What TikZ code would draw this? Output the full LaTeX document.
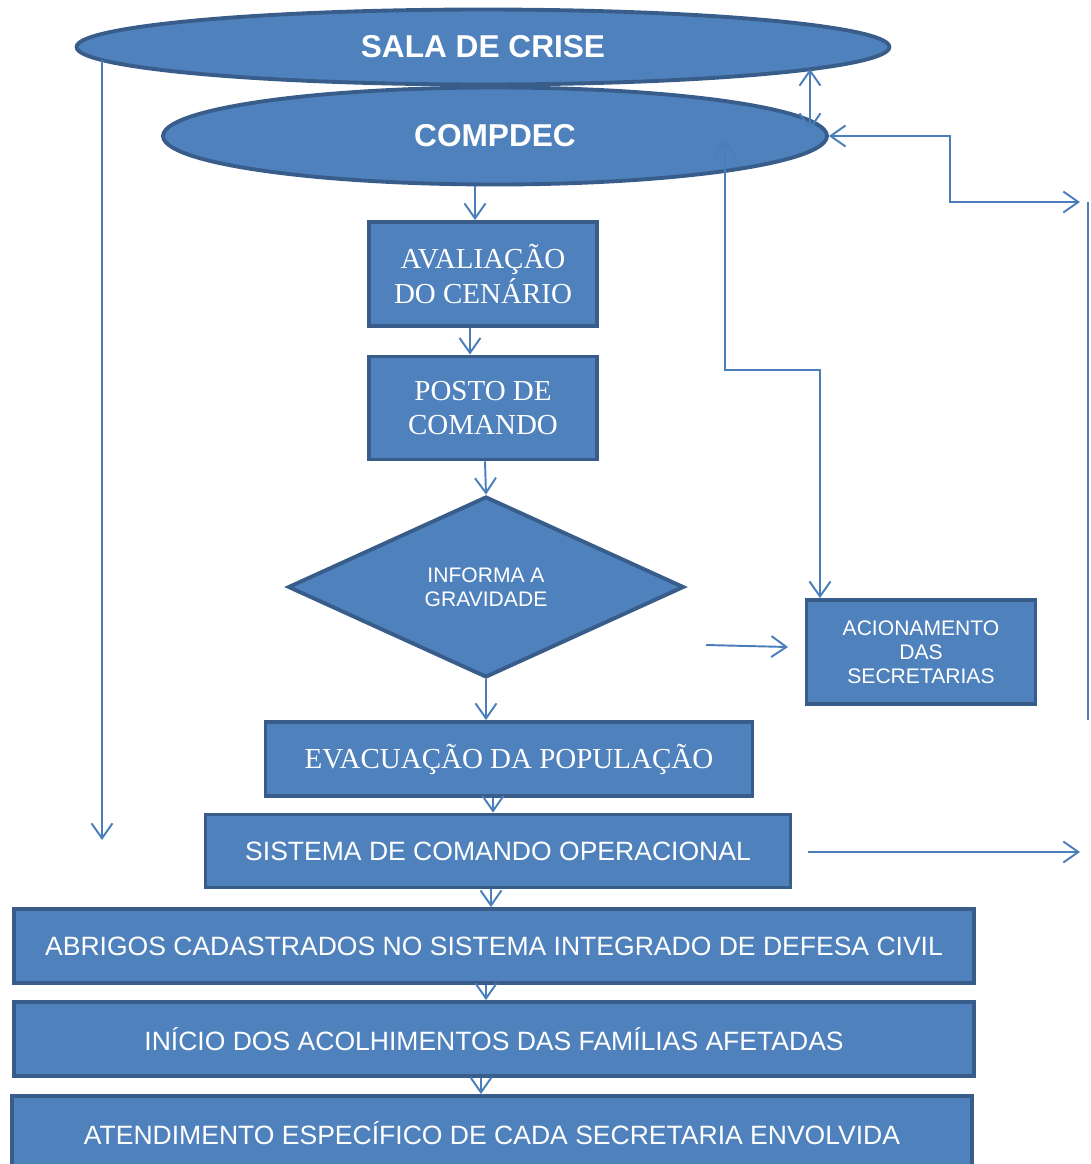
\documentclass[tikz,border=0pt]{standalone}
\usepackage{fontspec}
\setmainfont{Liberation Serif}
\setsansfont{Liberation Sans}
\usetikzlibrary{shapes.geometric,arrows.meta,calc}
\definecolor{azul}{HTML}{4F81BD}
\definecolor{bordo}{HTML}{385D8A}
\definecolor{linha}{HTML}{4A7EBB}
\tikzset{
  ponta/.tip={Straight Barb[length=0.3cm,width=0.42cm,line width=1.1pt]},
  elipse/.style={ellipse,draw=bordo,line width=2.2pt,fill=azul,text=white,
    font=\sffamily\bfseries\fontsize{18}{21}\selectfont},
  caixa/.style={rectangle,draw=bordo,line width=2.2pt,fill=azul,text=white,
    align=center,inner sep=0pt},
  serifa/.style={caixa,font=\rmfamily\fontsize{16.5}{19.5}\selectfont},
  semserifa/.style={caixa,font=\sffamily\fontsize{15.1}{18}\selectfont},
  miuda/.style={font=\sffamily\fontsize{12}{13.8}\selectfont},
  seta/.style={draw=linha,line width=1.1pt,-ponta},
  setas/.style={draw=linha,line width=1.1pt,ponta-ponta}
}

\begin{document}
\begin{tikzpicture}[x=0.02cm,y=-0.02cm]
\useasboundingbox (0,0) rectangle (1090,1164);

\node[elipse,minimum width=16.26cm,minimum height=1.5cm] (sala) at (483,47) {SALA DE CRISE};
\node[elipse,minimum width=13.28cm,minimum height=1.94cm] (compdec) at (495,136) {COMPDEC};

\node[serifa,minimum width=4.56cm,minimum height=2.08cm] (aval) at (483,274) {AVALIAÇÃO\\DO CENÁRIO};
\node[serifa,minimum width=4.56cm,minimum height=2.06cm] (posto) at (483,408) {POSTO DE\\COMANDO};
\node[diamond,draw=bordo,line width=2.2pt,fill=azul,text=white,miuda,align=center,inner sep=0pt,
  minimum width=7.92cm,minimum height=3.62cm] (grav) at (486,587) {INFORMA A\\GRAVIDADE};
\node[caixa,miuda,minimum width=4.58cm,minimum height=2.08cm] (acion) at (921,652) {ACIONAMENTO\\DAS\\SECRETARIAS};
\node[serifa,minimum width=9.74cm,minimum height=1.48cm] (evac) at (509,759) {EVACUAÇÃO DA POPULAÇÃO};
\node[semserifa,minimum width=11.7cm,minimum height=1.46cm] (sist) at (498,851) {SISTEMA DE COMANDO OPERACIONAL};
\node[semserifa,minimum width=19.22cm,minimum height=1.48cm] (abrig) at (494,946) {ABRIGOS CADASTRADOS NO SISTEMA INTEGRADO DE DEFESA CIVIL};
\node[semserifa,minimum width=19.22cm,minimum height=1.48cm] (inicio) at (494,1039) {INÍCIO DOS ACOLHIMENTOS DAS FAMÍLIAS AFETADAS};
\node[semserifa,minimum width=19.2cm,minimum height=1.48cm] (atend) at (492,1133) {ATENDIMENTO ESPECÍFICO DE CADA SECRETARIA ENVOLVIDA};

\coordinate (esq) at (102,840);
\coordinate (dir1) at (1080,202);
\coordinate (dir2) at (1080,852);
\coordinate (livre1) at (706,645);
\coordinate (livre2) at (788,647);
\coordinate (livre3) at (808,852);

\draw[seta] (compdec.south -| 475,0) -- (aval.north -| 475,0);
\draw[seta] (aval.south -| 470,0) -- (posto.north -| 470,0);
\draw[seta] (posto.south -| 485,0) -- (grav.north);
\draw[seta] (grav.south) -- (evac.north -| grav.south);
\draw[seta] (evac.south -| 493,0) -- (sist.north -| 493,0);
\draw[seta] (sist.south -| 491,0) -- (abrig.north -| 491,0);
\draw[seta] (abrig.south -| 486,0) -- (inicio.north -| 486,0);
\draw[seta] (inicio.south -| 481,0) -- (atend.north -| 481,0);

\draw[setas] ($(sala.center)+(327,22)$) -- ($(compdec.center)+(315,-6)$);
\draw[setas] (compdec.east) -| (950,202) -- (dir1);
\draw[setas] ($(compdec.center)+(230,4)$) |- (820,370) -- (acion.north -| 820,0);
\draw[seta] ($(sala.center)+(-381,13)$) -- (esq);
\draw[seta] (livre1) -- (livre2);
\draw[seta] (livre3) -- (dir2);
\draw[draw=linha,line width=1.1pt] (1088,202) -- (1088,720);
\end{tikzpicture}
\end{document}
